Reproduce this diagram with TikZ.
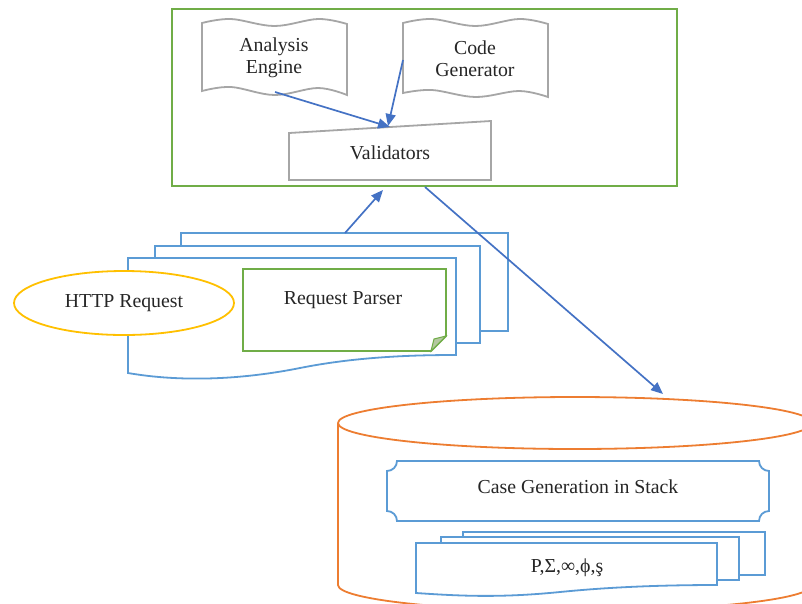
\documentclass[tikz,border=0pt]{standalone}
\usepackage{fontspec}
\setmainfont{Liberation Serif}
\usetikzlibrary{arrows.meta,shapes.geometric}
\definecolor{cblue}{HTML}{4472C4}
\definecolor{lblue}{HTML}{5B9BD5}
\definecolor{cgreen}{HTML}{70AD47}
\definecolor{corange}{HTML}{ED7D31}
\definecolor{cyellow}{HTML}{FFC000}
\definecolor{cgray}{HTML}{A6A6A6}
\definecolor{ctext}{HTML}{262626}
\definecolor{cfold}{HTML}{B4C7A0}
\tikzset{
  txt/.style={font=\fontsize{19.8}{22}\selectfont, text=ctext, align=center, inner sep=0pt},
  graybox/.style={draw=cgray, line width=1.8pt, fill=white},
  bluebox/.style={draw=lblue, line width=1.8pt, fill=white},
  conn/.style={draw=cblue, line width=1.7pt, -{Triangle[length=12pt,width=10pt]}},
}
\begin{document}
\begin{tikzpicture}[x=1pt,y=-1pt]
\useasboundingbox (0,0) rectangle (802,603);
\clip (0,0) rectangle (802,603);
% outer green box
\draw[cgreen, line width=2pt] (172,9) rectangle (677,186);
% Analysis Engine double wave
\path[graybox] plot[smooth, tension=0.6] coordinates {(202,23) (231,19) (274.5,26) (318,19) (347,24)}
  -- plot[smooth, tension=0.6] coordinates {(347,95) (318,88) (274.5,95) (231,87) (202,91)} -- cycle;
\node[txt] (ae) at (274,58) {Analysis\\Engine};
% Code Generator double wave
\path[graybox] plot[smooth, tension=0.6] coordinates {(403,23) (432,19) (475.5,26) (519,19) (548,24)}
  -- plot[smooth, tension=0.6] coordinates {(548,97) (519,91) (475.5,97) (432,90) (403,93)} -- cycle;
\node[txt] (cg) at (475,59) {Code\\Generator};
% Validators manual input
\path[graybox] (289,133) -- (491,121) -- (491,180) -- (289,180) -- cycle;
\node[txt] (val) at (390,153) {Validators};
% Request stack
\path[bluebox] (181,233) rectangle (508,331);
\path[bluebox] (155,246) rectangle (480,343);
\path[bluebox] (128,258) -- (456,258) -- (456,355)
  .. controls (420,355) and (360,356) .. (300,368)
  .. controls (240,380) and (180,382) .. (128,373) -- cycle;
\coordinate (rs) at (345,233);
% HTTP Request
\node[draw=cyellow, line width=1.8pt, fill=white, ellipse, minimum width=220pt, minimum height=64pt, inner sep=0pt] (http) at (124,303) {};
\node[txt] at (http.center) (httpt) {HTTP Request};
% Request Parser note
\path[draw=cgreen, line width=1.8pt, fill=white] (243,269) -- (446,269) -- (446,336) -- (431,351) -- (243,351) -- cycle;
\path[draw=cgreen, line width=1pt, fill=cfold] (446,336) -- (431,351) -- (434,339) -- cycle;
\node[txt] (rp) at (343,300) {Request Parser};
% Cylinder
\path[draw=corange, line width=1.8pt, fill=white] (338,423) -- (338,585) arc[start angle=180, end angle=360, x radius=237pt, y radius=26pt] -- (812,423);
\draw[corange, line width=1.8pt] (575,423) ellipse[x radius=237pt, y radius=26pt];
\coordinate (cyl) at (663,394);
% Case Generation plaque
\path[bluebox] (397,461) -- (759,461) arc[start angle=180, end angle=270, radius=10pt]
  -- (769,511) arc[start angle=90, end angle=180, radius=10pt]
  -- (397,521) arc[start angle=0, end angle=90, radius=10pt]
  -- (387,471) arc[start angle=270, end angle=360, radius=10pt] -- cycle;
\node[txt] (cgs) at (578,487) {Case Generation in Stack};
% P stack
\path[bluebox] (463,532) rectangle (765,575);
\path[bluebox] (441,537) rectangle (739,580);
\path[bluebox] (416,543) -- (717,543) -- (717,585)
  .. controls (650,585) and (600,588) .. (560,592)
  .. controls (500,598) and (460,596) .. (416,593) -- cycle;
\node[txt] (sym) at (567,568) {P,Σ,∞,ϕ,ş};
% connectors
\coordinate (aeo) at (275,92);
\coordinate (vala) at (390,127);
\coordinate (cgo) at (403,60);
\coordinate (valb) at (388,126);
\coordinate (gtop) at (383,190);
\coordinate (gbot) at (425,187);
\draw[conn] (aeo) -- (vala);
\draw[conn] (cgo) -- (valb);
\draw[conn] (rs) -- (gtop);
\draw[conn] (gbot) -- (cyl);
\end{tikzpicture}
\end{document}
